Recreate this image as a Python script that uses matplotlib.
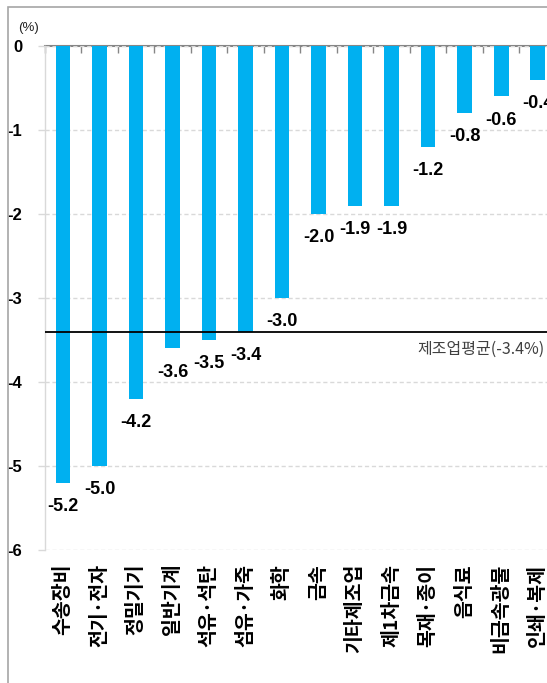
import matplotlib
matplotlib.use("Agg")
import matplotlib.pyplot as plt
from matplotlib import font_manager
from matplotlib.patches import Rectangle
import matplotlib.transforms as mtransforms
import numpy as np

categories = ["수송장비", "전기·전자", "정밀기기", "일반기계", "석유·석탄", "섬유·가죽", "화학",
              "금속", "기타제조업", "제1차금속", "목재·종이", "음식료", "비금속광물", "인쇄·복제"]
values = [-5.2, -5.0, -4.2, -3.6, -3.5, -3.4, -3.0, -2.0, -1.9, -1.9, -1.2, -0.8, -0.6, -0.4]
avg_value = -3.4
avg_label = "제조업평균(-3.4%)"
y_ticks = [0, -1, -2, -3, -4, -5, -6]
unit_label = "(%)"

names = {f.name for f in font_manager.fontManager.ttflist}
num_font = "Liberation Sans Narrow" if "Liberation Sans Narrow" in names else "Liberation Sans"
kr_font = ["Noto Sans CJK KR", "DejaVu Sans"]

W, H = 547, 683
fig = plt.figure(figsize=(W / 100, H / 100), dpi=100)
fig.patch.set_facecolor("white")

# outer frame
fig.add_artist(Rectangle((8 / W, -0.1), 1.2, 1.1 - 7 / H, transform=fig.transFigure,
                         fill=False, edgecolor="#a6a6a6", linewidth=1.2, clip_on=False))

left_px, right_px, top_px, bot_px = 44.7, 556, 46, 550
ax = fig.add_axes([left_px / W, 1 - bot_px / H, (right_px - left_px) / W, (bot_px - top_px) / H])

x = np.arange(len(categories))
ax.bar(x, values, width=0.4, color="#00B0F0", zorder=3)
ax.set_xlim(-0.5, len(categories) - 0.5)
ax.set_ylim(-6, 0)

ax.set_yticks(y_ticks)
ax.set_yticklabels([str(v) for v in y_ticks], fontfamily=num_font, fontweight="bold", fontsize=12)
ax.tick_params(axis="y", length=5, width=1, color="#d9d9d9", pad=11)
ax.grid(axis="y", linestyle=(0, (3, 2)), color="#d9d9d9", linewidth=1, zorder=0)

ax.set_xticks(x)
ax.set_xticklabels(categories, rotation=90, fontfamily=kr_font, fontweight="bold", fontsize=14)
ax.tick_params(axis="x", length=0, pad=10)

for s in ["top", "right", "bottom"]:
    ax.spines[s].set_visible(False)
ax.spines["left"].set_color("#d9d9d9")
ax.spines["left"].set_linewidth(1)

sec = ax.secondary_xaxis("top")
sec.set_xticks(np.arange(len(categories) + 1) - 0.5)
sec.set_xticklabels([])
sec.tick_params(axis="x", direction="in", length=5, width=1, color="#868686")
sec.spines["top"].set_color("#868686")
sec.spines["top"].set_linewidth(1.5)

for xi, v in zip(x, values):
    ax.annotate(f"{v:.1f}", (xi, v), xytext=(0, -17), textcoords="offset points",
                ha="center", va="center", fontfamily=num_font, fontweight="bold",
                fontsize=13, color="black", zorder=4)

ax.axhline(avg_value, color="black", linewidth=1.3, zorder=4)
trans = mtransforms.blended_transform_factory(fig.transFigure, ax.transData)
ax.annotate(avg_label, (545 / W, avg_value), xycoords=trans, xytext=(0, -7),
            textcoords="offset points", ha="right", va="top", fontfamily=kr_font,
            fontsize=11.5, color="#404040", annotation_clip=False)

fig.text(29 / W, 1 - 28 / H, unit_label, ha="center", va="center", fontsize=9.5,
         fontfamily=num_font, color="#222222")

fig.savefig("out.png", dpi=100)
